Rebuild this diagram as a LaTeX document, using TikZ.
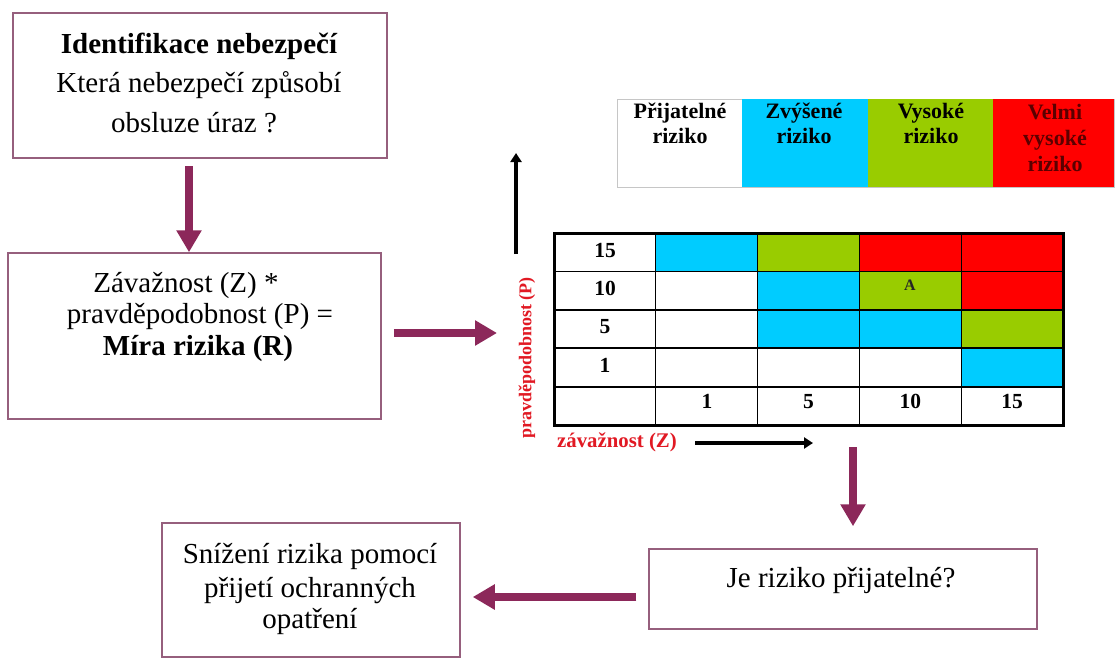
\documentclass[tikz,border=0pt]{standalone}
\usepackage{fontspec}
\setmainfont{Liberation Serif}
\usetikzlibrary{arrows.meta}
\definecolor{plum}{RGB}{140,40,90}
\definecolor{boxline}{RGB}{150,95,125}
\definecolor{cellcyan}{RGB}{0,204,255}
\definecolor{cellgreen}{RGB}{153,204,0}
\definecolor{cellred}{RGB}{255,0,0}
\definecolor{axisred}{RGB}{225,25,35}
\definecolor{legdarkred}{RGB}{90,0,0}

\begin{document}
\begin{tikzpicture}[x=1pt,y=-1pt,
  flowbox/.style={draw=boxline,line width=1.5pt,inner sep=0pt,fill=white},
  bigtxt/.style={font=\fontsize{29}{35}\selectfont,anchor=base,inner sep=0pt},
  bigbold/.style={font=\fontsize{29}{35}\selectfont\bfseries,anchor=base,inner sep=0pt},
  legtxt/.style={font=\fontsize{22}{26}\selectfont\bfseries,anchor=base,inner sep=0pt},
  numtxt/.style={font=\fontsize{21.5}{25}\selectfont\bfseries,anchor=base,inner sep=0pt},
  axislab/.style={text=axisred,font=\fontsize{20.8}{24}\selectfont\bfseries,inner sep=0pt},
  flowarrow/.style={draw=plum,line width=8pt,-{Triangle[width=24pt,length=22pt]}},
  axisarrow/.style={draw=black,line width=3.5pt,-{Triangle[width=11pt,length=9pt]}}
]
\useasboundingbox (0,0) rectangle (1116,659);
\fill[white] (0,0) rectangle (1116,659);

% ---- flow boxes ----
\node[flowbox,minimum width=374pt,minimum height=145pt] (ident) at (200,85.5) {};
\node[flowbox,minimum width=373pt,minimum height=166pt] (measure) at (194.5,336) {};
\node[flowbox,minimum width=298pt,minimum height=134pt] (reduce) at (311,590) {};
\node[flowbox,minimum width=388pt,minimum height=80pt] (accept) at (843,589) {};

\node[bigbold] (identA) at (199,53) {Identifikace nebezpečí};
\node[bigtxt] (identB) at (199,92) {Která nebezpečí způsobí};
\node[bigtxt] (identC) at (194,132) {obsluze úraz ?};

\node[bigtxt] (measA) at (186,292) {Závažnost (Z) *};
\node[bigtxt] (measB) at (200,323) {pravděpodobnost (P) =};
\node[bigbold] (measC) at (198,355) {Míra rizika (R)};

\node[bigtxt] (redA) at (310,563) {Snížení rizika pomocí};
\node[bigtxt] (redB) at (310,597) {přijetí ochranných};
\node[bigtxt] (redC) at (310,628) {opatření};

\node[bigtxt] (accA) at (841,587) {Je riziko přijatelné?};

% ---- legend ----
\draw[gray!45,line width=0.8pt] (617,99) rectangle (1114,187);
\fill[cellcyan] (742,99) rectangle (868,187);
\fill[cellgreen] (868,99) rectangle (993,187);
\fill[cellred] (993,99) rectangle (1114,187);
\node[legtxt] (legA1) at (680,118) {Přijatelné};
\node[legtxt] (legA2) at (680,143) {riziko};
\node[legtxt] (legB1) at (804,118) {Zvýšené};
\node[legtxt] (legB2) at (804,143) {riziko};
\node[legtxt] (legC1) at (931,118) {Vysoké};
\node[legtxt] (legC2) at (931,143) {riziko};
\node[legtxt,text=legdarkred] (legD1) at (1055,119) {Velmi};
\node[legtxt,text=legdarkred] (legD2) at (1055,145) {vysoké};
\node[legtxt,text=legdarkred] (legD3) at (1055,171) {riziko};

% ---- risk matrix ----
\fill[cellcyan]  (655.8,233)   rectangle (757.6,271.4);
\fill[cellgreen] (757.6,233)   rectangle (859.4,271.4);
\fill[cellred]   (859.4,233)   rectangle (1063,271.4);
\fill[cellcyan]  (757.6,271.4) rectangle (859.4,309.8);
\fill[cellgreen] (859.4,271.4) rectangle (961.2,309.8);
\fill[cellred]   (961.2,271.4) rectangle (1063,309.8);
\fill[cellcyan]  (757.6,309.8) rectangle (961.2,348.2);
\fill[cellgreen] (961.2,309.8) rectangle (1063,348.2);
\fill[cellcyan]  (961.2,348.2) rectangle (1063,386.6);
\foreach \x in {655.8,757.6,859.4,961.2}
  \draw[line width=1.2pt] (\x,233) -- (\x,425);
\foreach \y in {271.4,309.8,348.2,386.6}
  \draw[line width=1.8pt] (554,\y) -- (1063,\y);
\draw[line width=3pt] (554,233) rectangle (1063,425);

\node[numtxt] (p15) at (605,257) {15};
\node[numtxt] (p10) at (605,295) {10};
\node[numtxt] (p5)  at (605,333.5) {5};
\node[numtxt] (p1)  at (605,372) {1};
\node[numtxt] (z1)  at (706.9,408) {1};
\node[numtxt] (z5)  at (808.5,408) {5};
\node[numtxt] (z10) at (910.3,408) {10};
\node[numtxt] (z15) at (1012.1,408) {15};
\node[font=\fontsize{16}{18}\selectfont\bfseries,anchor=base,inner sep=0pt,text=black!85] (cellA) at (910,290.5) {A};

% ---- axes ----
\node[axislab,font=\fontsize{18}{22}\selectfont\bfseries,rotate=90] (plabel) at (527,358) {pravděpodobnost (P)};
\node[axislab,anchor=base west] (zlabel) at (557,447) {závažnost (Z)};
\coordinate (pfoot) at (516,254);
\coordinate (ptip) at (516,153);
\coordinate (zfoot) at (695,443);
\coordinate (ztip) at (813,443);
\draw[axisarrow] (pfoot) -- (ptip);
\draw[axisarrow] (zfoot) -- (ztip);

% ---- flow arrows ----
\coordinate (a1s) at (189,166);
\coordinate (toMatrix) at (497,333);
\coordinate (fromMatrix) at (853,447);
\draw[flowarrow] (a1s) -- (a1s |- measure.north);
\draw[flowarrow] ([shift={(12,-3)}]measure.east) -- (toMatrix);
\draw[flowarrow] (fromMatrix) -- ([shift={(10,-22)}]accept.north);
\draw[flowarrow] ([shift={(-12,8)}]accept.west) -- ([shift={(12,7)}]reduce.east);
\end{tikzpicture}
\end{document}
